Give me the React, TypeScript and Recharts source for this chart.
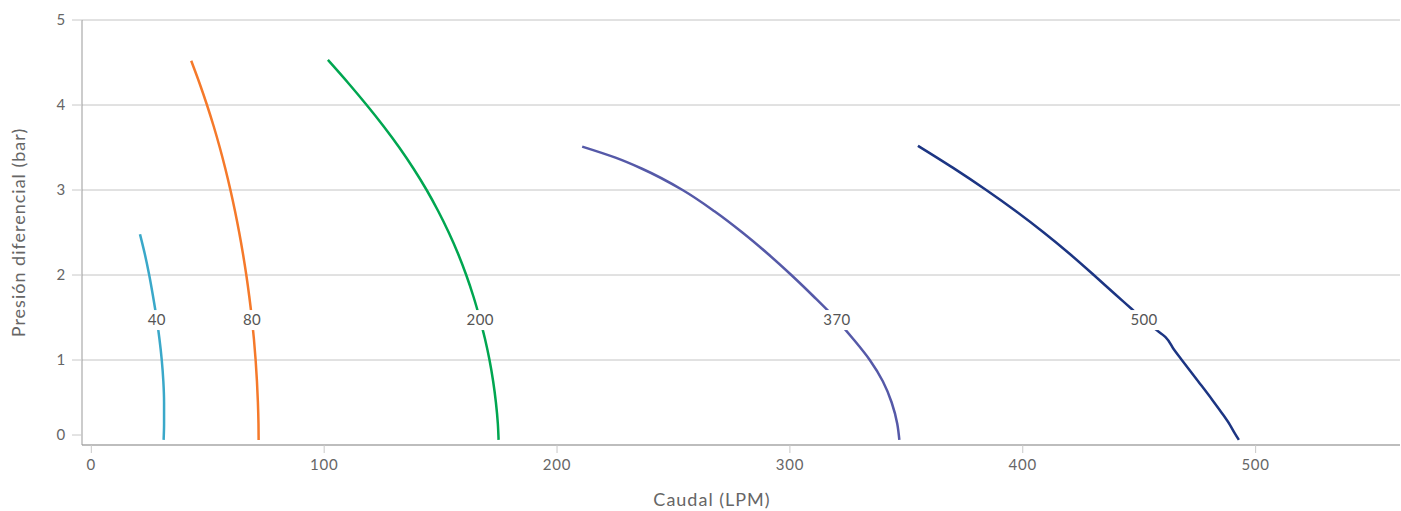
import React from 'react';
import { LineChart, Line, XAxis, YAxis, CartesianGrid, Label } from 'recharts';

const xTicks = [0, 100, 200, 300, 400, 500];
const yTicks = [0, 1, 2, 3, 4, 5];

const s40 = [
  { q: 20.9, p: 2.48 }, { q: 22.95, p: 2.25 }, { q: 24.86, p: 2.0 }, { q: 26.5, p: 1.75 },
  { q: 28.15, p: 1.47 }, { q: 29.25, p: 1.25 }, { q: 30.25, p: 1.0 }, { q: 30.93, p: 0.75 },
  { q: 31.24, p: 0.5 }, { q: 31.24, p: 0.25 }, { q: 31.05, p: 0.06 },
];
const s80 = [
  { q: 42.9, p: 4.52 }, { q: 46.55, p: 4.25 }, { q: 49.67, p: 4.0 }, { q: 52.55, p: 3.75 },
  { q: 55.17, p: 3.5 }, { q: 57.56, p: 3.25 }, { q: 59.74, p: 3.0 }, { q: 61.72, p: 2.75 },
  { q: 63.51, p: 2.5 }, { q: 65.12, p: 2.25 }, { q: 66.56, p: 2.0 }, { q: 67.82, p: 1.75 },
  { q: 69.03, p: 1.47 }, { q: 69.82, p: 1.25 }, { q: 70.56, p: 1.0 }, { q: 71.13, p: 0.75 },
  { q: 71.54, p: 0.5 }, { q: 71.79, p: 0.25 }, { q: 71.85, p: 0.06 },
];
const s200 = [
  { q: 101.6, p: 4.53 }, { q: 110.6, p: 4.25 }, { q: 118.25, p: 4.0 }, { q: 125.5, p: 3.75 },
  { q: 132.25, p: 3.5 }, { q: 138.4, p: 3.25 }, { q: 144.0, p: 3.0 }, { q: 149.0, p: 2.75 },
  { q: 153.5, p: 2.5 }, { q: 157.5, p: 2.25 }, { q: 161.0, p: 2.0 }, { q: 164.06, p: 1.75 },
  { q: 167.0, p: 1.47 }, { q: 169.05, p: 1.25 }, { q: 171.0, p: 1.0 }, { q: 172.56, p: 0.75 },
  { q: 173.75, p: 0.5 }, { q: 174.58, p: 0.25 }, { q: 174.9, p: 0.06 },
];
const s370 = [
  { q: 210.8, p: 3.51 }, { q: 225.1, p: 3.38 }, { q: 236.5, p: 3.25 }, { q: 253.9, p: 3.0 },
  { q: 267.6, p: 2.75 }, { q: 279.6, p: 2.5 }, { q: 290.5, p: 2.25 }, { q: 300.6, p: 2.0 },
  { q: 310.1, p: 1.75 }, { q: 320.2, p: 1.47 }, { q: 327.1, p: 1.25 }, { q: 334.3, p: 1.0 },
  { q: 339.9, p: 0.75 }, { q: 343.7, p: 0.5 }, { q: 346.1, p: 0.25 }, { q: 347.0, p: 0.06 },
];
const s500 = [
  { q: 355, p: 3.52 }, { q: 370.1, p: 3.26 }, { q: 384.3, p: 3.0 }, { q: 397.1, p: 2.75 },
  { q: 409.0, p: 2.5 }, { q: 420.1, p: 2.25 }, { q: 430.5, p: 2.0 }, { q: 439.8, p: 1.77 },
  { q: 446.8, p: 1.6 }, { q: 452.1, p: 1.47 }, { q: 456.6, p: 1.37 }, { q: 461.3, p: 1.27 },
  { q: 465, p: 1.12 }, { q: 468.3, p: 1.0 }, { q: 475.3, p: 0.75 }, { q: 481.4, p: 0.53 },
  { q: 485.4, p: 0.38 }, { q: 488.9, p: 0.24 }, { q: 491, p: 0.14 }, { q: 492.8, p: 0.06 },
];

const series = [
  { name: '40', data: s40, color: '#3aa8c9', labelIdx: 4 },
  { name: '80', data: s80, color: '#f5792a', labelIdx: 12 },
  { name: '200', data: s200, color: '#00a650', labelIdx: 12 },
  { name: '370', data: s370, color: '#5559a8', labelIdx: 9 },
  { name: '500', data: s500, color: '#1c3583', labelIdx: 9 },
];

const FONT = 'Lato, "Noto Sans", sans-serif';

const YTick = (props: any) => {
  const { y, payload } = props;
  const v = payload.value;
  const yy = v === 0 ? y - 10 : y;
  return (
    <g>
      <line x1={72} x2={82} y1={yy} y2={yy} stroke="#c8c8c8" strokeWidth={1} />
      <text x={66} y={yy} dy="0.35em" textAnchor="end" fontSize={15} fill="#666" fontFamily={FONT} letterSpacing={0.8}>
        {v}
      </text>
    </g>
  );
};

const makeLabel = (name: string, idx: number) => (props: any) => {
  const { x, y, index } = props;
  if (index !== idx) return null;
  const w = name.length * 8.8 + 4;
  return (
    <g>
      <rect x={x - w / 2} y={y - 10} width={w} height={20} fill="#fff" />
      <text x={x} y={y} dy="0.35em" textAnchor="middle" fontSize={15} fill="#555" fontFamily={FONT} letterSpacing={0.4}>
        {name}
      </text>
    </g>
  );
};

export default function App() {
  return (
    <div style={{ position: 'absolute', left: 0, top: 0, width: 1401, height: 511, background: '#fff' }}>
      <LineChart width={1401} height={511} margin={{ top: 20, right: 1, left: 0, bottom: 0 }}>
        <CartesianGrid horizontal vertical={false} stroke="#c4c4c4" />
        <XAxis
          type="number"
          dataKey="q"
          domain={[-4, 562]}
          ticks={xTicks}
          allowDataOverflow
          height={66}
          stroke="#999"
          tickSize={8}
          tickMargin={6}
          tickLine={{ stroke: '#c8c8c8' }}
          tick={{ fontSize: 15, fill: '#666', fontFamily: FONT, letterSpacing: 0.8 }}
        >
          <Label
            value="Caudal (LPM)"
            position="insideBottom"
            offset={5}
            dx={-29}
            style={{ fontSize: 18, fill: '#666', fontFamily: FONT, letterSpacing: 1 }}
          />
        </XAxis>
        <YAxis
          type="number"
          dataKey="p"
          domain={[0, 5]}
          ticks={yTicks}
          width={82}
          stroke="#999"
          tickLine={false}
          tick={<YTick />}
        >
          <Label
            content={(p: any) => {
              const vb = p.viewBox || {};
              const cy = (vb.y ?? 20) + (vb.height ?? 425) / 2;
              return (
                <text
                  x={18}
                  y={cy}
                  transform={`rotate(-90, 18, ${cy})`}
                  textAnchor="middle"
                  dominantBaseline="central"
                  fontSize={18}
                  fill="#666"
                  fontFamily={FONT}
                  letterSpacing={1}
                >
                  Presión diferencial (bar)
                </text>
              );
            }}
          />
        </YAxis>
        {series.map((s) => (
          <Line
            key={s.name}
            data={s.data}
            dataKey="p"
            type="monotoneY"
            stroke={s.color}
            strokeWidth={2.5}
            dot={false}
            activeDot={false}
            isAnimationActive={false}
            label={makeLabel(s.name, s.labelIdx)}
          />
        ))}
      </LineChart>
    </div>
  );
}
